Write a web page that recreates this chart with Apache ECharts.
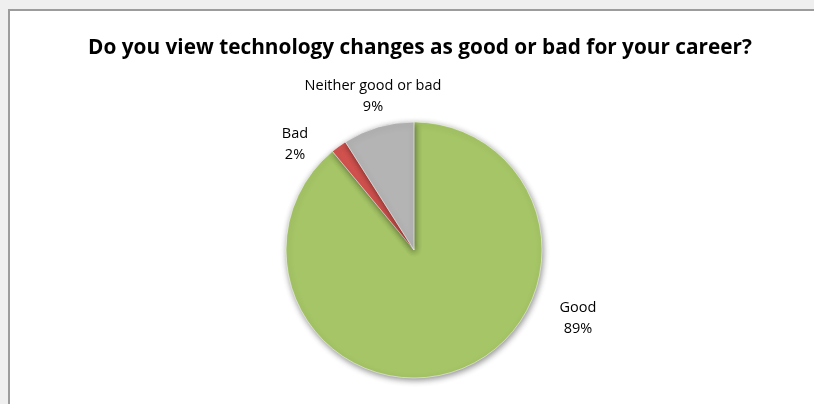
<!DOCTYPE html>
<html>
<head>
<meta charset="utf-8">
<script src="https://cdn.jsdelivr.net/npm/echarts@6/dist/echarts.min.js"></script>
<style>
html,body{margin:0;padding:0;background:#efefef;}
#chart{width:814px;height:404px;}
</style>
</head>
<body>
<div id="chart"></div>
<script>
const titleText = "Do you view technology changes as good or bad for your career?";
const categories = ["Good", "Bad", "Neither good or bad"];
const values = [89, 2, 9];
const colors = ["#A5C566", "#D2524E", "#B4B4B4"];
const labelPos = [[578, 318], [295, 144], [373, 96]];

const chart = echarts.init(document.getElementById('chart'), null, {renderer: 'canvas'});
chart.setOption({
  backgroundColor: '#efefef',
  animation: false,
  graphic: [{
    type: 'rect', left: 8, top: 9, z: -10,
    shape: {width: 830, height: 430},
    style: {fill: '#ffffff', stroke: '#9c9c9c', lineWidth: 2}
  }],
  title: {
    text: titleText,
    left: 415, top: 33, textAlign: 'center',
    textStyle: {fontFamily: 'Open Sans', fontWeight: 'bold', fontSize: 20.8, color: '#000'}
  },
  series: [{
    type: 'pie',
    center: [414, 250],
    radius: [0, 128],
    startAngle: 90,
    clockwise: true,
    data: categories.map((c, i) => ({name: c, value: values[i], itemStyle: {color: colors[i]}})),
    itemStyle: {
      borderColor: 'rgba(255,255,255,0.5)', borderWidth: 1,
      shadowBlur: 6, shadowColor: 'rgba(0,0,0,0.45)', shadowOffsetX: 1, shadowOffsetY: 2
    },
    label: {
      show: true,
      formatter: p => p.name + '\n' + p.value + '%',
      fontFamily: 'Open Sans', fontSize: 14.5, lineHeight: 21, color: '#000', align: 'center'
    },
    labelLine: {show: false},
    labelLayout: p => ({x: labelPos[p.dataIndex][0], y: labelPos[p.dataIndex][1], align: 'center', verticalAlign: 'middle'}),
    emphasis: {disabled: true}
  }]
});
</script>
</body>
</html>
